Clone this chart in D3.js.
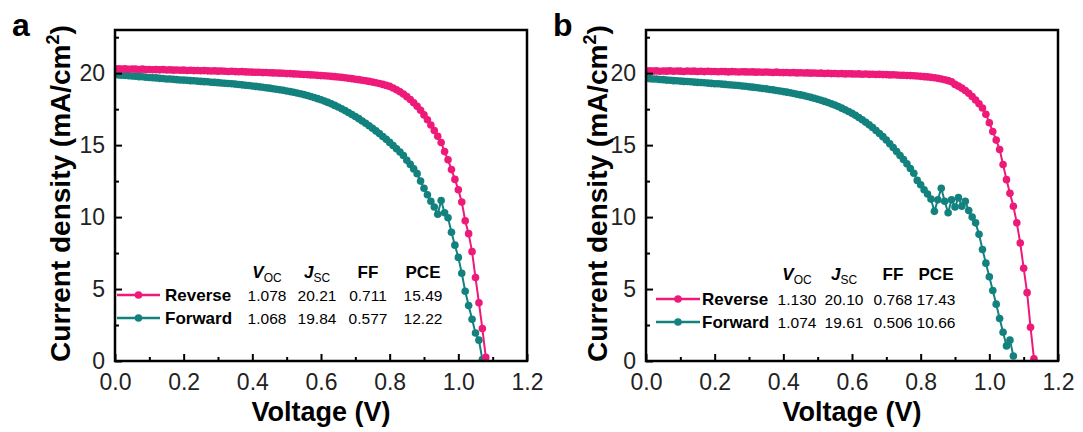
<!DOCTYPE html>
<html lang="en">
<head>
<meta charset="UTF-8">
<script src="https://cdn.jsdelivr.net/npm/d3@7"></script>
<title>J-V curves</title>
<style>
    body { margin: 0; background: #fff; }
    svg { display: block; font-family: Arial, "Liberation Sans", sans-serif; }
</style>
</head>
<body>
<svg id="chart" width="1083" height="432"></svg>
<script>
// voltage grid of the scans (V), J values in mA/cm2
const voltStep = 0.01;

const reverseA = [
    20.30, 20.31, 20.28, 20.30, 20.27, 20.29, 20.28, 20.26, 20.28, 20.25,
    20.26, 20.24, 20.25, 20.23, 20.25, 20.22, 20.23, 20.21, 20.22, 20.20,
    20.21, 20.19, 20.20, 20.18, 20.19, 20.17, 20.18, 20.16, 20.15, 20.16,
    20.14, 20.15, 20.13, 20.12, 20.13, 20.11, 20.10, 20.11, 20.09, 20.08,
    20.07, 20.06, 20.06, 20.04, 20.05, 20.03, 20.02, 20.01, 20.00, 19.99,
    19.97, 19.97, 19.95, 19.94, 19.93, 19.91, 19.90, 19.88, 19.87, 19.85,
    19.83, 19.82, 19.80, 19.78, 19.76, 19.73, 19.71, 19.68, 19.65, 19.62,
    19.58, 19.55, 19.51, 19.47, 19.43, 19.38, 19.33, 19.28, 19.22, 19.15,
    19.08, 18.97, 18.85, 18.71, 18.55, 18.37, 18.17, 17.95, 17.70, 17.42,
    17.10, 16.76, 16.40, 16.02, 15.62, 15.18, 14.55, 13.98, 13.30, 12.62,
    11.90, 11.05, 9.75, 8.85, 7.60, 5.80, 4.05, 2.25, 0.25
];
const forwardA = [
    19.92, 19.88, 19.86, 19.85, 19.82, 19.80, 19.79, 19.76, 19.75, 19.72,
    19.70, 19.68, 19.67, 19.64, 19.63, 19.60, 19.59, 19.57, 19.55, 19.53,
    19.52, 19.50, 19.48, 19.47, 19.45, 19.43, 19.41, 19.40, 19.37, 19.36,
    19.34, 19.32, 19.30, 19.28, 19.26, 19.24, 19.21, 19.19, 19.16, 19.14,
    19.11, 19.08, 19.05, 19.02, 18.99, 18.96, 18.92, 18.88, 18.85, 18.81,
    18.76, 18.72, 18.67, 18.62, 18.57, 18.51, 18.45, 18.38, 18.31, 18.23,
    18.15, 18.06, 17.97, 17.87, 17.76, 17.65, 17.53, 17.40, 17.27, 17.13,
    16.99, 16.84, 16.68, 16.52, 16.35, 16.17, 15.99, 15.80, 15.60, 15.40,
    15.19, 14.97, 14.75, 14.52, 14.28, 13.95, 13.66, 13.35, 13.02, 12.50,
    12.00, 11.55, 11.10, 10.70, 10.20, 11.15, 10.30, 9.95, 8.95, 8.05,
    7.20, 6.10, 4.85, 3.85, 2.90, 1.95, 1.45, 0.10
];
const reverseB = [
    20.15, 20.17, 20.14, 20.16, 20.13, 20.15, 20.14, 20.16, 20.13, 20.15,
    20.14, 20.12, 20.15, 20.13, 20.14, 20.12, 20.13, 20.11, 20.13, 20.12,
    20.12, 20.10, 20.12, 20.11, 20.09, 20.11, 20.10, 20.08, 20.10, 20.09,
    20.08, 20.09, 20.07, 20.08, 20.06, 20.08, 20.06, 20.05, 20.07, 20.05,
    20.04, 20.05, 20.03, 20.04, 20.02, 20.03, 20.01, 20.02, 20.00, 20.01,
    19.99, 20.00, 19.98, 19.99, 19.97, 19.98, 19.96, 19.97, 19.95, 19.96,
    19.95, 19.94, 19.95, 19.93, 19.94, 19.92, 19.93, 19.91, 19.92, 19.90,
    19.90, 19.88, 19.89, 19.87, 19.86, 19.86, 19.84, 19.83, 19.82, 19.80,
    19.78, 19.76, 19.74, 19.71, 19.68, 19.64, 19.60, 19.54, 19.48, 19.40,
    19.22, 19.10, 18.96, 18.80, 18.60, 18.38, 18.14, 17.88, 17.58, 17.15,
    16.55, 15.95, 15.35, 14.70, 13.65, 12.60, 11.65, 10.75, 9.60, 8.20,
    6.45, 4.75, 2.35, 0.15
];
const forwardB = [
    19.66, 19.62, 19.60, 19.59, 19.56, 19.55, 19.52, 19.51, 19.48, 19.47,
    19.45, 19.43, 19.42, 19.40, 19.38, 19.36, 19.35, 19.33, 19.31, 19.29,
    19.27, 19.26, 19.24, 19.22, 19.20, 19.18, 19.16, 19.14, 19.11, 19.09,
    19.06, 19.03, 19.00, 18.97, 18.94, 18.91, 18.87, 18.84, 18.80, 18.76,
    18.72, 18.68, 18.64, 18.59, 18.54, 18.49, 18.44, 18.38, 18.32, 18.26,
    18.19, 18.12, 18.04, 17.96, 17.87, 17.78, 17.68, 17.57, 17.46, 17.34,
    17.21, 17.07, 16.92, 16.76, 16.59, 16.41, 16.22, 16.02, 15.81, 15.59,
    15.36, 15.10, 14.83, 14.55, 14.28, 14.00, 13.70, 13.38, 13.05, 12.55,
    12.25, 11.90, 11.60, 11.25, 10.40, 11.20, 12.00, 11.10, 10.30, 11.20,
    10.70, 11.35, 10.75, 11.10, 10.45, 10.00, 9.60, 8.80, 7.75, 6.80,
    5.85, 4.90, 3.95, 2.95, 2.00, 1.05, 1.45, 0.35
];

const xMajor = [0, 0.2, 0.4, 0.6, 0.8, 1.0, 1.2];
const xMinor = [0.1, 0.3, 0.5, 0.7, 0.9, 1.1];
const yMajor = [0, 5, 10, 15, 20];
const yMinor = [2.5, 7.5, 12.5, 17.5, 22.5];

const scanNames = ["Reverse", "Forward"];
const statsA = [["1.078", "20.21", "0.711", "15.49"], ["1.068", "19.84", "0.577", "12.22"]];
const statsB = [["1.130", "20.10", "0.768", "17.43"], ["1.074", "19.61", "0.506", "10.66"]];

const pink = "#ee1a7a";
const teal = "#13827f";

const svg = d3.select("#chart");
const plotTop = 30, plotBottom = 361;

function drawPanel(p) {
    const x = d3.scaleLinear().domain([0, 1.2]).range([p.left, p.right]);
    const y = d3.scaleLinear().domain([0, 23]).range([plotBottom, plotTop]);
    const g = svg.append("g");

    // curves, clipped to the frame
    const clipId = "clip-" + p.letter;
    svg.append("clipPath").attr("id", clipId)
        .append("rect")
        .attr("x", p.left).attr("y", plotTop)
        .attr("width", p.right - p.left).attr("height", plotBottom - plotTop);
    const curves = g.append("g").attr("clip-path", `url(#${clipId})`);

    const line = d3.line().x(d => x(d[0])).y(d => y(d[1]));
    [{ values: p.forward, color: teal }, { values: p.reverse, color: pink }].forEach(s => {
        const pts = s.values.map((j, i) => [i * voltStep, j]);
        curves.append("path").datum(pts)
            .attr("d", line)
            .attr("fill", "none")
            .attr("stroke", s.color)
            .attr("stroke-width", 2);
        curves.append("g").selectAll("circle").data(pts).join("circle")
            .attr("cx", d => x(d[0]))
            .attr("cy", d => y(d[1]))
            .attr("r", 3.8)
            .attr("fill", s.color);
    });

    // axes (ticks inside)
    const bottom = g.append("g").attr("transform", `translate(0,${plotBottom})`);
    bottom.call(d3.axisBottom(x).tickValues(xMajor).tickSize(-7).tickPadding(13).tickFormat(d3.format(".1f")));
    bottom.append("g").call(d3.axisBottom(x).tickValues(xMinor).tickSize(-4).tickFormat(""));
    const left = g.append("g").attr("transform", `translate(${p.left},0)`);
    left.call(d3.axisLeft(y).tickValues(yMajor).tickSize(-7).tickPadding(10));
    left.append("g").call(d3.axisLeft(y).tickValues(yMinor).tickSize(-4).tickFormat(""));
    g.selectAll(".domain").remove();
    g.selectAll(".tick line").attr("stroke", "#000").attr("stroke-width", 2);
    g.selectAll(".tick text").attr("font-size", 23).attr("fill", "#222")
        .attr("font-family", "Arial, 'Liberation Sans', sans-serif");

    g.append("rect")
        .attr("x", p.left).attr("y", plotTop)
        .attr("width", p.right - p.left).attr("height", plotBottom - plotTop)
        .attr("fill", "none").attr("stroke", "#000").attr("stroke-width", 2.5);

    // axis titles
    g.append("text")
        .attr("x", (p.left + p.right) / 2).attr("y", 421)
        .attr("text-anchor", "middle")
        .attr("font-size", 27).attr("font-weight", "bold")
        .text("Voltage (V)");
    const yt = g.append("text")
        .attr("transform", `translate(${p.yTitleX},${(plotTop + plotBottom) / 2 - 2}) rotate(-90)`)
        .attr("text-anchor", "middle")
        .attr("dy", "0.35em")
        .attr("font-size", 28).attr("font-weight", "bold");
    yt.append("tspan").text("Current density (mA/cm");
    yt.append("tspan").attr("font-size", 18).attr("dy", -11).text("2");
    yt.append("tspan").attr("dy", 11).text(")");

    // panel letter
    g.append("text")
        .attr("x", p.letterX).attr("y", 36)
        .attr("font-size", 32).attr("font-weight", "bold")
        .text(p.letter);

    // legend + parameter table
    const lg = p.legend;
    const colors = [pink, teal];
    scanNames.forEach((name, r) => {
        const cy = lg.rows[r];
        g.append("line")
            .attr("x1", lg.x0).attr("x2", lg.x1)
            .attr("y1", cy).attr("y2", cy)
            .attr("stroke", colors[r]).attr("stroke-width", 2.5);
        g.append("circle")
            .attr("cx", (lg.x0 + lg.x1) / 2).attr("cy", cy)
            .attr("r", 3.8).attr("fill", colors[r]);
        g.append("text")
            .attr("x", lg.tx).attr("y", cy + 6)
            .attr("font-size", 17).attr("font-weight", "bold")
            .text(name);
        p.stats[r].forEach((v, c) => {
            g.append("text")
                .attr("x", lg.cols[c]).attr("y", cy + 6)
                .attr("text-anchor", "middle")
                .attr("font-size", 15.5)
                .text(v);
        });
    });
    const head = [["V", "OC"], ["J", "SC"], ["FF", ""], ["PCE", ""]];
    head.forEach((h, c) => {
        const t = g.append("text")
            .attr("x", lg.cols[c]).attr("y", lg.head)
            .attr("text-anchor", "middle")
            .attr("font-size", 17).attr("font-weight", "bold");
        t.append("tspan").attr("font-style", h[1] ? "italic" : null).text(h[0]);
        if (h[1]) {
            t.append("tspan").attr("font-size", 12).attr("font-weight", "normal")
                .attr("dy", 4).text(h[1]);
        }
    });
}

drawPanel({
    letter: "a", letterX: 12, left: 115, right: 527, yTitleX: 60,
    reverse: reverseA, forward: forwardA, stats: statsA,
    legend: { x0: 117, x1: 160, tx: 165, rows: [295, 318], head: 278, cols: [267, 317, 368, 423] }
});
drawPanel({
    letter: "b", letterX: 553, left: 646, right: 1058, yTitleX: 597,
    reverse: reverseB, forward: forwardB, stats: statsB,
    legend: { x0: 656, x1: 700, tx: 702, rows: [299, 322], head: 280, cols: [797, 844, 893, 936] }
});
</script>
</body>
</html>
